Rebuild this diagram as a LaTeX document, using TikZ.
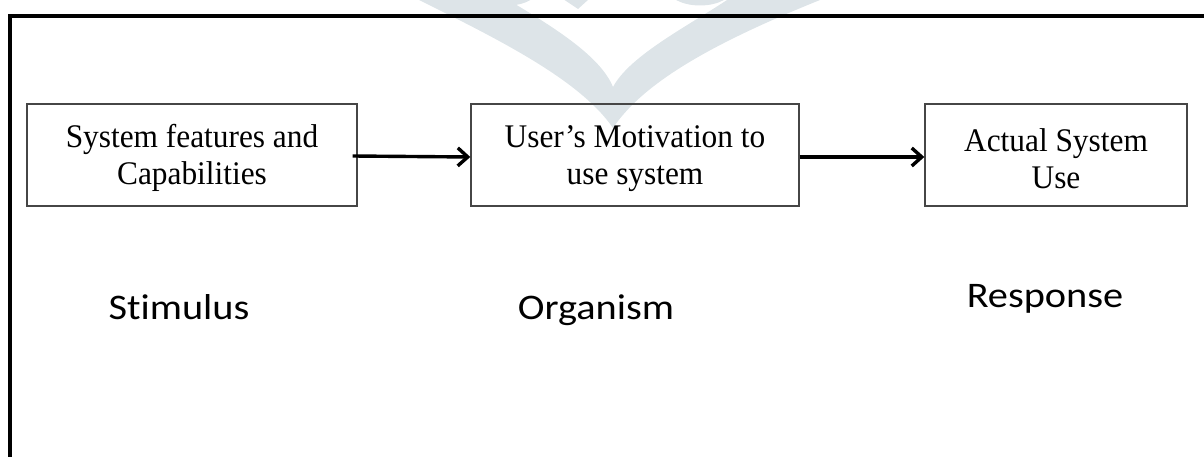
\documentclass[tikz,border=0pt]{standalone}
\usepackage{fontspec}
\setmainfont[FakeStretch=0.95]{Liberation Serif}
\newfontfamily\labfont[FakeStretch=1.12,Ligatures=CommonOff]{Carlito}
\usetikzlibrary{arrows.meta}
\definecolor{wmcol}{RGB}{221,228,232}
\definecolor{boxcol}{RGB}{70,70,70}
\tikzset{
  boxnode/.style={draw=boxcol, line width=1.4pt, minimum width=330pt, minimum height=102pt,
    inner sep=0pt, align=center, font=\fontsize{33}{37}\selectfont},
  labnode/.style={anchor=base, inner sep=0pt, font=\labfont\fontsize{36}{40}\selectfont},
  flow/.style={line width=3.4pt, -{Straight Barb[length=10pt,width=18pt,line width=3.4pt]}},
  frameline/.style={line width=4pt, line join=miter},
  wm/.style={fill=wmcol, draw=none}
}
\begin{document}
\begin{tikzpicture}[x=1pt, y=-1pt]
\useasboundingbox (0,0) rectangle (1204,457);
% watermark
\fill[wm] (415,-2) .. controls (500,40) and (580,80) .. (613,128)
  .. controls (645,80) and (720,40) .. (825,-2) -- (730,-2)
  .. controls (690,25) and (630,55) .. (613,87)
  .. controls (600,55) and (550,25) .. (505,-2) -- cycle;
\draw[wmcol, line width=7pt] (508,-16) ellipse (30 and 18);
\draw[wmcol, line width=7pt] (700,-16) ellipse (32 and 18);
\fill[wm] (563,-1) -- (589,-1) -- (578,9) -- cycle;
% frame
\draw[frameline] (10,460) -- (10,16) -- (1210,16);
% boxes
\node[boxnode] (b1) at (192,155) {\rule{0pt}{30pt}System features and\\Capabilities};
\node[boxnode, minimum width=328pt] (b2) at (635,155) {\rule{0pt}{30pt}User’s Motivation to\\use system};
\node[boxnode, minimum width=262pt] (b3) at (1056,155) {\rule{0pt}{30pt}Actual System\\Use};
% arrows
\draw[flow] ([xshift=-5pt,yshift=-1pt]b1.east) -- ([yshift=-2pt]b2.west);
\draw[flow] ([yshift=-2pt]b2.east) -- ([yshift=-2pt]b3.west);
% labels
\node[labnode] (s) at (179,319) {Stimulus};
\node[labnode] (o) at (596,319) {Organism};
\node[labnode] (r) at (1045,307) {Response};
\end{tikzpicture}
\end{document}
